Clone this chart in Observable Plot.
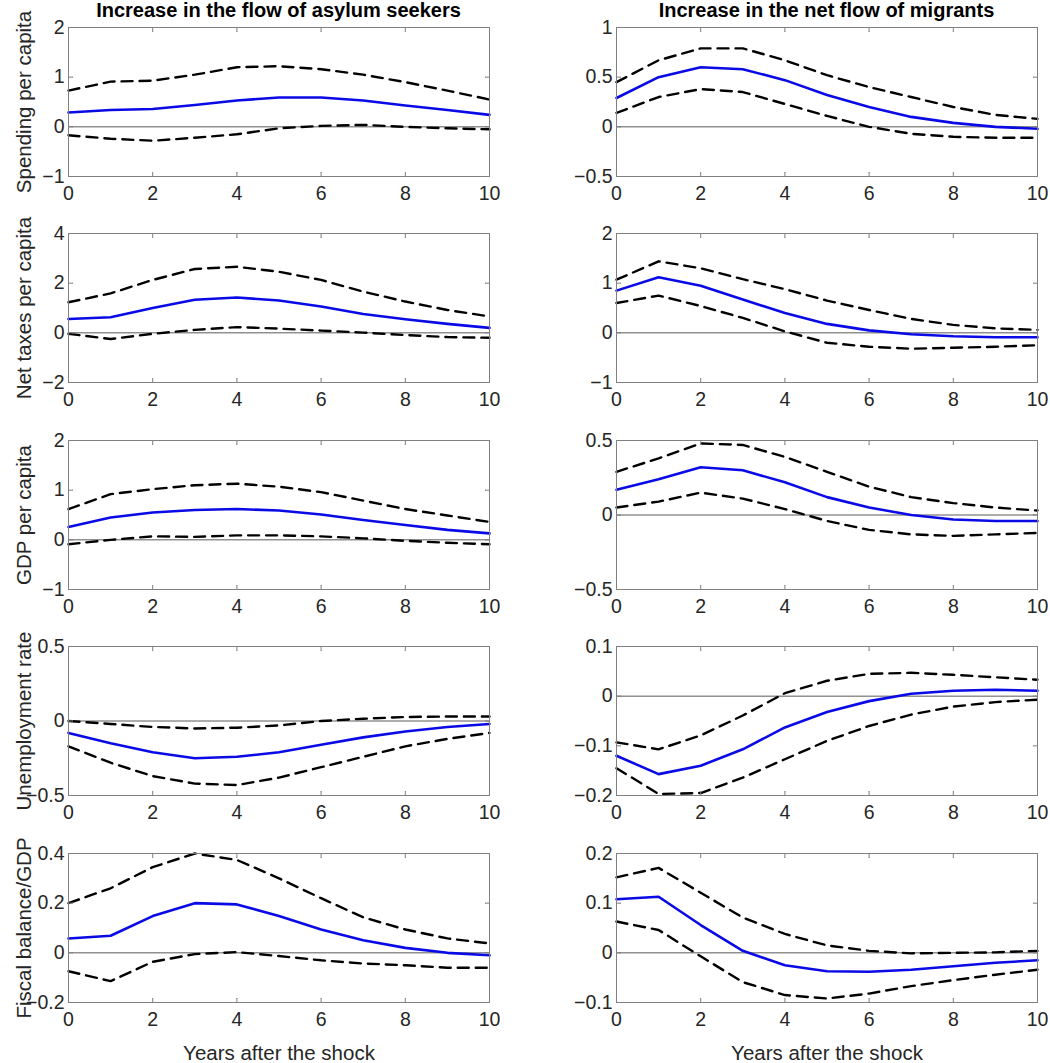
<!DOCTYPE html>
<html><head><meta charset="utf-8">
<script src="https://cdn.jsdelivr.net/npm/d3@7"></script>
<script src="https://cdn.jsdelivr.net/npm/@observablehq/plot@0.6"></script>
<style>
body{margin:0;background:#fff;}
#chart{position:relative;width:1050px;height:1063px;overflow:hidden;font-family:"Liberation Sans",Arial,sans-serif;background:#fff;}
.title{position:absolute;top:-1px;font-weight:bold;font-size:20px;line-height:22px;color:#000;text-align:center;white-space:nowrap;}
.panel{position:absolute;}
</style></head><body><div id="chart"></div>
<script>
// ---- data ----
const years = [0,1,2,3,4,5,6,7,8,9,10];
const xTicks = [0,2,4,6,8,10];
const columnTitles = ["Increase in the flow of asylum seekers", "Increase in the net flow of migrants"];
const rowLabels = ["Spending per capita", "Net taxes per capita", "GDP per capita", "Unemployment rate", "Fiscal balance/GDP"];
const xLabel = "Years after the shock";

// Spending per capita
const asylumSpendingIRF = [0.29,0.34,0.36,0.44,0.53,0.59,0.59,0.53,0.43,0.34,0.24];
const asylumSpendingHi  = [0.73,0.91,0.93,1.05,1.20,1.22,1.16,1.05,0.90,0.73,0.55];
const asylumSpendingLo  = [-0.17,-0.24,-0.28,-0.22,-0.15,-0.03,0.02,0.04,0.00,-0.03,-0.05];
const migrantSpendingIRF = [0.29,0.50,0.60,0.58,0.47,0.32,0.20,0.10,0.04,0.00,-0.02];
const migrantSpendingHi  = [0.45,0.67,0.79,0.79,0.67,0.52,0.40,0.30,0.20,0.12,0.08];
const migrantSpendingLo  = [0.14,0.30,0.38,0.35,0.23,0.11,0.00,-0.07,-0.10,-0.11,-0.11];
// Net taxes per capita
const asylumTaxesIRF = [0.56,0.63,1.00,1.33,1.42,1.30,1.06,0.76,0.55,0.36,0.20];
const asylumTaxesHi  = [1.23,1.59,2.13,2.57,2.66,2.46,2.13,1.66,1.26,0.92,0.66];
const asylumTaxesLo  = [-0.04,-0.25,-0.04,0.12,0.23,0.17,0.09,0.01,-0.09,-0.17,-0.20];
const migrantTaxesIRF = [0.85,1.12,0.95,0.67,0.40,0.18,0.05,-0.03,-0.07,-0.09,-0.09];
const migrantTaxesHi  = [1.07,1.44,1.30,1.08,0.88,0.65,0.46,0.28,0.16,0.09,0.06];
const migrantTaxesLo  = [0.60,0.75,0.54,0.30,0.03,-0.20,-0.28,-0.32,-0.30,-0.28,-0.25];
// GDP per capita
const asylumGdpIRF = [0.26,0.45,0.55,0.60,0.62,0.59,0.51,0.40,0.30,0.20,0.13];
const asylumGdpHi  = [0.62,0.92,1.02,1.10,1.13,1.07,0.96,0.79,0.62,0.49,0.36];
const asylumGdpLo  = [-0.09,0.00,0.07,0.06,0.09,0.09,0.07,0.03,-0.02,-0.06,-0.09];
const migrantGdpIRF = [0.17,0.24,0.32,0.30,0.22,0.12,0.05,0.00,-0.03,-0.04,-0.04];
const migrantGdpHi  = [0.29,0.38,0.48,0.47,0.39,0.29,0.19,0.12,0.08,0.05,0.03];
const migrantGdpLo  = [0.05,0.09,0.15,0.11,0.04,-0.04,-0.10,-0.13,-0.14,-0.13,-0.12];
// Unemployment rate
const asylumUnempIRF = [-0.08,-0.15,-0.21,-0.25,-0.24,-0.21,-0.16,-0.11,-0.07,-0.04,-0.02];
const asylumUnempHi  = [0.00,-0.02,-0.04,-0.05,-0.045,-0.03,0.00,0.015,0.027,0.03,0.03];
const asylumUnempLo  = [-0.17,-0.28,-0.37,-0.42,-0.43,-0.38,-0.31,-0.24,-0.17,-0.12,-0.08];
const migrantUnempIRF = [-0.12,-0.157,-0.14,-0.107,-0.063,-0.032,-0.01,0.005,0.011,0.013,0.011];
const migrantUnempHi  = [-0.093,-0.107,-0.079,-0.039,0.006,0.031,0.045,0.047,0.043,0.038,0.033];
const migrantUnempLo  = [-0.145,-0.197,-0.195,-0.164,-0.127,-0.09,-0.06,-0.037,-0.021,-0.012,-0.007];
// Fiscal balance/GDP
const asylumFiscalIRF = [0.058,0.069,0.148,0.20,0.195,0.148,0.094,0.051,0.02,0.00,-0.01];
const asylumFiscalHi  = [0.20,0.26,0.345,0.40,0.374,0.30,0.22,0.143,0.094,0.058,0.038];
const asylumFiscalLo  = [-0.074,-0.114,-0.036,-0.005,0.003,-0.013,-0.03,-0.043,-0.05,-0.06,-0.06];
const migrantFiscalIRF = [0.108,0.113,0.056,0.004,-0.025,-0.037,-0.038,-0.034,-0.027,-0.02,-0.015];
const migrantFiscalHi  = [0.152,0.171,0.121,0.071,0.038,0.015,0.004,-0.001,0.00,0.001,0.004];
const migrantFiscalLo  = [0.063,0.046,-0.007,-0.059,-0.085,-0.092,-0.082,-0.067,-0.055,-0.044,-0.034];

// y-axis domains and ticks
const yDomains = [
  [[-1,2],[-0.5,1]],
  [[-2,4],[-1,2]],
  [[-1,2],[-0.5,0.5]],
  [[-0.5,0.5],[-0.2,0.1]],
  [[-0.2,0.4],[-0.1,0.2]]
];
const yTicks = [
  [[-1,0,1,2],[-0.5,0,0.5,1]],
  [[-2,0,2,4],[-1,0,1,2]],
  [[-1,0,1,2],[-0.5,0,0.5]],
  [[-0.5,0,0.5],[-0.2,-0.1,0,0.1]],
  [[-0.2,0,0.2,0.4],[-0.1,0,0.1,0.2]]
];
const series = [
  [[asylumSpendingIRF,asylumSpendingLo,asylumSpendingHi],[migrantSpendingIRF,migrantSpendingLo,migrantSpendingHi]],
  [[asylumTaxesIRF,asylumTaxesLo,asylumTaxesHi],[migrantTaxesIRF,migrantTaxesLo,migrantTaxesHi]],
  [[asylumGdpIRF,asylumGdpLo,asylumGdpHi],[migrantGdpIRF,migrantGdpLo,migrantGdpHi]],
  [[asylumUnempIRF,asylumUnempLo,asylumUnempHi],[migrantUnempIRF,migrantUnempLo,migrantUnempHi]],
  [[asylumFiscalIRF,asylumFiscalLo,asylumFiscalHi],[migrantFiscalIRF,migrantFiscalLo,migrantFiscalHi]]
];

// ---- layout ----
const rowTops = [27, 233, 440, 646, 853];
const frameH = 149;
const cols = [
  {left: 0, width: 525, marginLeft: 68, marginRight: 36},
  {left: 525, width: 525, marginLeft: 91, marginRight: 13}
];
const axisColor = "#262626";
const frameColor = "#808080";
const fmt = d => (d < 0 ? "\u2212" : "") + String(Math.abs(d));

const chart = document.getElementById("chart");

cols.forEach((c, ci) => {
  const t = document.createElement("div");
  t.className = "title";
  t.textContent = columnTitles[ci];
  const fl = c.left + c.marginLeft, fr = c.left + c.width - c.marginRight;
  t.style.left = (fl - 100) + "px";
  t.style.width = (fr - fl + 200) + "px";
  chart.appendChild(t);
});

rowTops.forEach((top, ri) => {
  cols.forEach((c, ci) => {
    const last = ri === rowTops.length - 1;
    const marginTop = 6;
    const marginBottom = last ? 62 : 32;
    const [irf, lo, hi] = series[ri][ci];
    const marks = [
      Plot.ruleY([0], {stroke: "#5a5a5a", strokeWidth: 1}),
      Plot.line(years, {x: d => d, y: (d, i) => hi[i], stroke: "#000", strokeWidth: 2.4, strokeDasharray: "11,7"}),
      Plot.line(years, {x: d => d, y: (d, i) => lo[i], stroke: "#000", strokeWidth: 2.4, strokeDasharray: "11,7"}),
      Plot.line(years, {x: d => d, y: (d, i) => irf[i], stroke: "#0a0ae6", strokeWidth: 2.6}),
      Plot.frame({stroke: frameColor, strokeWidth: 1}),
      Plot.vectorX(xTicks, {x: d => d, frameAnchor: "bottom", anchor: "start", length: 4, rotate: 0, r: 0, stroke: frameColor, strokeWidth: 1}),
      Plot.vectorX(xTicks, {x: d => d, frameAnchor: "top", anchor: "start", length: 4, rotate: 180, r: 0, stroke: frameColor, strokeWidth: 1}),
      Plot.vectorY(yTicks[ri][ci], {y: d => d, frameAnchor: "left", anchor: "start", length: 4, rotate: 90, r: 0, stroke: frameColor, strokeWidth: 1}),
      Plot.vectorY(yTicks[ri][ci], {y: d => d, frameAnchor: "right", anchor: "start", length: 4, rotate: -90, r: 0, stroke: frameColor, strokeWidth: 1}),
      Plot.axisX(xTicks, {tickSize: 0, tickPadding: 10, fontSize: 19.5, fill: axisColor, tickFormat: fmt, label: null}),
      Plot.axisY(yTicks[ri][ci], {tickSize: 0, tickPadding: 4, fontSize: 19.5, fill: axisColor, tickFormat: fmt, label: null})
    ];
    if (ci === 0) {
      marks.push(Plot.text([rowLabels[ri]], {frameAnchor: "left", textAnchor: "middle", rotate: -90, dx: -52, lineAnchor: "top", fontSize: 20.5, fill: axisColor}));
    }
    if (last) {
      marks.push(Plot.text([xLabel], {frameAnchor: "bottom", textAnchor: "middle", dy: 57, lineAnchor: "bottom", fontSize: 20.5, fill: axisColor}));
    }
    const svg = Plot.plot({
      width: c.width,
      height: marginTop + frameH + marginBottom,
      marginTop, marginBottom,
      marginLeft: c.marginLeft, marginRight: c.marginRight,
      style: {fontFamily: "'Liberation Sans', Arial, sans-serif", background: "transparent", overflow: "visible"},
      x: {domain: [0, 10], axis: null},
      y: {domain: yDomains[ri][ci], axis: null},
      marks
    });
    const wrap = document.createElement("div");
    wrap.className = "panel";
    wrap.style.left = c.left + "px";
    wrap.style.top = (top - marginTop) + "px";
    wrap.appendChild(svg);
    chart.appendChild(wrap);
  });
});
</script>
</body></html>
